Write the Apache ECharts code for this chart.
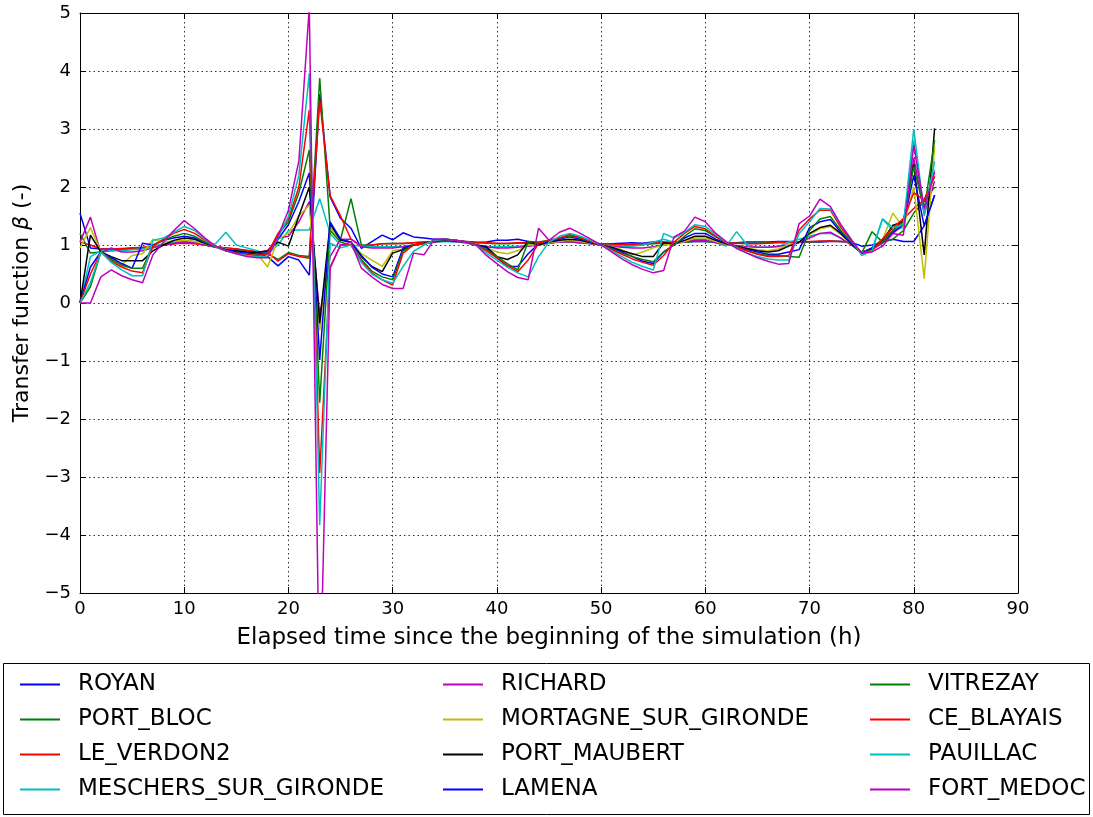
<!DOCTYPE html>
<html>
<head>
<meta charset="utf-8">
<script src="https://cdn.jsdelivr.net/npm/echarts@6/dist/echarts.min.js"></script>
<style>
  html, body { margin: 0; padding: 0; background: #fff; }
  #chart { width: 1093px; height: 817px; }
</style>
</head>
<body>
<div id="chart"></div>
<script>
// hours since start of the simulation
var hours = [0, 1, 2, 3, 4, 5, 6, 7, 8, 9, 10, 11, 12, 13, 14, 15, 16, 17, 18, 19,
  20, 21, 22, 23, 24, 25, 26, 27, 28, 29, 30, 31, 32, 33, 34, 35, 36, 37, 38, 39,
  40, 41, 42, 43, 44, 45, 46, 47, 48, 49, 50, 51, 52, 53, 54, 55, 56, 57, 58, 59,
  60, 61, 62, 63, 64, 65, 66, 67, 68, 69, 70, 71, 72, 73, 74, 75, 76, 77, 78, 79,
  80, 81, 82];

var stations = ['ROYAN', 'PORT_BLOC', 'LE_VERDON2', 'MESCHERS_SUR_GIRONDE',
  'RICHARD', 'MORTAGNE_SUR_GIRONDE', 'PORT_MAUBERT', 'LAMENA',
  'VITREZAY', 'CE_BLAYAIS', 'PAUILLAC', 'FORT_MEDOC'];

// matplotlib classic colour cycle
var colors = ['#0000ff', '#008000', '#ff0000', '#00bfbf', '#bf00bf', '#bfbf00', '#000000',
  '#0000ff', '#008000', '#ff0000', '#00bfbf', '#bf00bf'];

var royan = [1.55, 0.95, 0.93, 0.93, 0.93, 0.95, 0.95, 0.97, 1.0, 1.02,
  1.05, 1.04, 1.0, 0.97, 0.95, 0.93, 0.9, 0.85, 0.8, 0.64,
  0.8, 0.74, 0.48, 3.6, 1.83, 1.46, 1.29, 0.94, 1.06, 1.17,
  1.09, 1.21, 1.14, 1.12, 1.1, 1.1, 1.08, 1.06, 1.04, 1.05,
  1.08, 1.08, 1.1, 1.06, 1.04, 1.04, 1.05, 1.06, 1.05, 1.03,
  1.02, 1.02, 1.03, 1.04, 1.03, 1.05, 1.05, 1.04, 1.05, 1.06,
  1.06, 1.05, 1.04, 1.04, 1.05, 1.05, 1.05, 1.06, 1.06, 1.05,
  1.05, 1.05, 1.06, 1.06, 1.05, 0.98, 1.0, 1.05, 1.1, 1.06,
  1.06, 1.33, 1.86];
var portBloc = [1.2, 0.86, 0.88, 0.9, 0.92, 0.93, 0.95, 0.98, 1.0, 1.03,
  1.06, 1.04, 1.0, 0.97, 0.94, 0.92, 0.9, 0.87, 0.85, 0.75,
  0.87, 0.82, 0.8, 3.88, 1.3, 1.1, 1.8, 1.0, 1.0, 1.02,
  1.03, 1.02, 1.04, 1.05, 1.06, 1.07, 1.06, 1.05, 1.04, 1.03,
  1.02, 1.02, 1.03, 1.03, 1.03, 1.04, 1.05, 1.05, 1.04, 1.03,
  1.02, 1.01, 1.0, 1.0, 1.01, 1.02, 1.03, 1.04, 1.05, 1.06,
  1.06, 1.05, 1.04, 1.03, 1.03, 1.03, 1.04, 1.05, 1.05, 1.05,
  1.05, 1.06, 1.07, 1.06, 1.05, 0.86, 1.23, 1.05, 1.1, 1.25,
  1.55, 1.75, 2.0];
var leVerdon2 = [1.05, 1.0, 0.93, 0.93, 0.94, 0.95, 0.96, 0.98, 1.0, 1.02,
  1.03, 1.02, 1.0, 0.97, 0.95, 0.93, 0.91, 0.89, 0.87, 0.72,
  0.85, 0.8, 0.77, 3.5, 1.85, 1.5, 1.1, 0.98, 1.0, 1.02,
  1.02, 1.03, 1.04, 1.05, 1.06, 1.07, 1.07, 1.06, 1.05, 1.04,
  1.03, 1.03, 1.04, 1.04, 1.04, 1.04, 1.05, 1.05, 1.04, 1.03,
  1.02, 1.01, 1.01, 1.01, 1.02, 1.03, 1.04, 1.05, 1.06, 1.07,
  1.07, 1.06, 1.04, 1.03, 1.02, 1.02, 1.03, 1.04, 1.04, 1.05,
  1.06, 1.07, 1.07, 1.06, 1.05, 0.87, 0.95, 1.1, 1.25, 1.45,
  1.63, 1.78, 2.18];
var meschers = [0, 0.8, 0.9, 0.9, 0.9, 0.92, 0.93, 0.98, 1.02, 1.05,
  1.08, 1.06, 1.0, 1.02, 1.22, 1.0, 0.95, 0.9, 0.85, 1.0,
  1.25, 1.26, 1.26, 1.8, 1.2, 1.0, 1.0, 0.98, 0.97, 0.97,
  0.97, 0.98, 1.0, 1.02, 1.05, 1.06, 1.05, 1.04, 1.0, 0.98,
  0.97, 0.97, 0.98, 1.0, 1.02, 1.04, 1.05, 1.06, 1.04, 1.02,
  1.0, 0.99, 0.98, 0.98, 1.0, 1.05, 1.1, 1.05, 1.06, 1.1,
  1.1, 1.04, 0.98, 1.23, 1.0, 0.96, 0.96, 0.97, 1.05, 1.1,
  1.15, 1.2, 1.2, 1.12, 1.0, 0.87, 0.93, 1.45, 1.25, 1.3,
  2.8, 1.5, 2.3];
var richard = [1.05, 1.48, 0.86, 0.95, 0.88, 0.88, 0.9, 0.95, 1.0, 1.03,
  1.05, 1.04, 1.0, 0.96, 0.93, 0.9, 0.88, 0.87, 0.9, 1.12,
  1.15, 1.4, 1.75, -0.2, 0.8, 1.1, 1.1, 0.97, 0.95, 0.95,
  0.95, 0.97, 1.0, 1.02, 1.05, 1.07, 1.06, 1.04, 1.0, 0.97,
  0.95, 0.95, 0.96, 0.98, 1.0, 1.03, 1.05, 1.06, 1.04, 1.02,
  1.0, 0.98, 0.96, 0.95, 0.95, 0.97, 1.0, 1.02, 1.05, 1.08,
  1.08, 1.04, 1.01, 0.99, 0.97, 0.96, 0.96, 0.98, 1.0, 1.04,
  1.12, 1.2, 1.22, 1.12, 1.0, 0.88, 0.93, 1.03, 1.2, 1.35,
  2.5, 1.55, 2.1];
var mortagne = [0.95, 1.3, 0.88, 0.78, 0.66, 0.82, 0.85, 1.1, 1.05, 1.07,
  1.08, 1.06, 1.02, 0.97, 0.93, 0.9, 0.88, 0.85, 0.62, 1.1,
  1.2, 1.5, 1.69, -0.47, 1.3, 1.1, 1.05, 0.85, 0.74, 0.63,
  0.9, 0.93, 1.0, 1.03, 1.06, 1.08, 1.07, 1.05, 1.0, 0.95,
  0.88, 0.85, 0.9, 1.0, 1.0, 1.04, 1.06, 1.08, 1.06, 1.03,
  1.0, 0.97, 0.92, 0.83, 0.88, 0.95, 1.0, 1.02, 1.06, 1.12,
  1.12, 1.06, 1.01, 0.98, 0.95, 0.92, 0.9, 0.93, 1.0, 1.05,
  1.18, 1.28, 1.32, 1.18, 1.02, 0.87, 0.93, 1.09, 1.55, 1.3,
  2.0, 0.42, 2.7];
var portMaubert = [0, 1.17, 0.88, 0.8, 0.73, 0.73, 0.73, 0.9, 1.0, 1.08,
  1.12, 1.1, 1.03, 0.97, 0.92, 0.9, 0.88, 0.87, 0.9, 1.05,
  0.98, 1.5, 2.0, -0.35, 1.37, 1.08, 1.05, 0.8, 0.63, 0.54,
  0.86, 0.92, 1.0, 1.03, 1.06, 1.08, 1.07, 1.05, 1.0, 0.97,
  0.8, 0.75, 0.83, 1.06, 1.0, 1.05, 1.08, 1.1, 1.08, 1.04,
  1.0, 0.96, 0.9, 0.85, 0.8, 0.8, 1.04, 1.02, 1.08, 1.15,
  1.15, 1.08, 1.02, 0.98, 0.94, 0.9, 0.88, 0.9, 0.98, 1.05,
  1.2, 1.3, 1.34, 1.2, 1.02, 0.86, 0.93, 1.08, 1.34, 1.4,
  2.4, 0.83, 3.01];
var lamena = [0, 0.62, 0.88, 0.78, 0.68, 0.6, 1.03, 1.0, 1.08, 1.12,
  1.15, 1.12, 1.04, 0.97, 0.92, 0.88, 0.86, 0.84, 0.86, 1.1,
  1.35, 1.75, 2.24, -0.98, 1.4, 1.1, 1.05, 0.82, 0.62, 0.5,
  0.45, 0.95, 1.0, 1.03, 1.07, 1.1, 1.08, 1.05, 1.0, 0.95,
  0.78, 0.63, 0.63, 0.85, 1.02, 1.07, 1.1, 1.14, 1.1, 1.05,
  1.0, 0.95, 0.88, 0.8, 0.72, 0.68, 0.88, 1.0, 1.12, 1.2,
  1.2, 1.1, 1.03, 0.97, 0.92, 0.88, 0.84, 0.84, 0.88, 0.92,
  1.3, 1.4, 1.44, 1.22, 1.03, 0.86, 0.95, 1.05, 1.22, 1.35,
  2.2, 1.33, 1.86];
var vitrezay = [0, 0.28, 0.88, 0.75, 0.65, 0.6, 0.6, 1.0, 1.08, 1.15,
  1.2, 1.15, 1.05, 0.97, 0.9, 0.86, 0.84, 0.82, 0.85, 1.18,
  1.4, 1.9, 2.64, -1.72, 1.25, 1.05, 1.0, 0.75, 0.55, 0.45,
  0.4, 0.9, 1.0, 1.02, 1.07, 1.1, 1.08, 1.05, 1.0, 0.92,
  0.8, 0.68, 0.57, 1.06, 1.05, 1.08, 1.12, 1.16, 1.12, 1.06,
  1.0, 0.93, 0.86, 0.8, 0.75, 0.71, 0.88, 1.0, 1.15, 1.28,
  1.25, 1.14, 1.04, 0.97, 0.9, 0.85, 0.82, 0.82, 0.8, 0.79,
  1.25, 1.45, 1.49, 1.25, 1.05, 0.86, 0.92, 1.05, 1.25, 1.4,
  2.35, 1.6, 2.81];
var ceBlayais = [0, 0.5, 0.88, 0.72, 0.62, 0.55, 0.52, 0.98, 1.1, 1.2,
  1.27, 1.2, 1.08, 0.97, 0.9, 0.86, 0.83, 0.82, 0.85, 1.2,
  1.45, 2.0, 3.33, -2.93, 0.62, 1.0, 1.0, 0.72, 0.52, 0.4,
  0.31, 0.86, 1.0, 1.02, 1.08, 1.1, 1.08, 1.05, 1.0, 0.9,
  0.78, 0.65, 0.54, 0.74, 1.03, 1.08, 1.12, 1.18, 1.13, 1.06,
  1.0, 0.92, 0.84, 0.76, 0.7, 0.65, 0.82, 1.05, 1.2, 1.32,
  1.28, 1.15, 1.04, 0.96, 0.9, 0.84, 0.8, 0.8, 0.82, 1.26,
  1.45, 1.6, 1.6, 1.3, 1.08, 0.85, 0.9, 1.1, 1.3, 1.45,
  1.9, 1.78, 2.18];
var pauillac = [0, 0.35, 0.88, 0.7, 0.57, 0.47, 0.47, 1.08, 1.12, 1.22,
  1.32, 1.25, 1.1, 0.97, 0.9, 0.85, 0.82, 0.8, 0.8, 1.12,
  1.5, 2.2, 3.96, -3.83, 1.03, 0.95, 1.0, 0.7, 0.5, 0.4,
  0.34, 0.63, 0.89, 1.0, 1.08, 1.1, 1.08, 1.05, 1.0, 0.86,
  0.74, 0.62, 0.52, 0.45, 0.8, 1.05, 1.15, 1.2, 1.15, 1.08,
  1.0, 0.9, 0.8, 0.7, 0.63, 0.57, 1.2, 1.12, 1.22, 1.35,
  1.32, 1.18, 1.05, 0.95, 0.86, 0.8, 0.76, 0.74, 0.74, 1.2,
  1.4, 1.63, 1.62, 1.35, 1.1, 0.82, 0.9, 1.45, 1.3, 1.35,
  3.0, 1.55, 2.44];
var fortMedoc = [0, 0, 0.45, 0.57, 0.47, 0.4, 0.35, 0.83, 1.05, 1.25,
  1.42, 1.28, 1.12, 0.98, 0.9, 0.85, 0.8, 0.78, 0.78, 1.15,
  1.6, 2.45, 5.1, -7.0, 0.6, 1.0, 1.05, 0.6, 0.45, 0.32,
  0.25, 0.25, 0.86, 0.83, 1.1, 1.1, 1.08, 1.05, 1.0, 0.82,
  0.68, 0.54, 0.44, 0.4, 1.29, 1.08, 1.22, 1.29, 1.2, 1.1,
  1.0, 0.88, 0.76, 0.66, 0.58, 0.52, 0.56, 1.14, 1.24, 1.48,
  1.4, 1.2, 1.06, 0.94, 0.86, 0.78, 0.72, 0.67, 0.68, 1.37,
  1.5, 1.79, 1.66, 1.35, 1.09, 0.86, 0.88, 0.98, 1.2, 1.17,
  2.72, 1.63, 2.26];

var values = [royan, portBloc, leVerdon2, meschers, richard, mortagne,
  portMaubert, lamena, vitrezay, ceBlayais, pauillac, fortMedoc];

var chart = echarts.init(document.getElementById('chart'));

var font = 'DejaVu Sans';
var minus = function (v) { return v < 0 ? '\u2212' + (-v) : '' + v; };

var series = stations.map(function (name, i) {
  return {
    name: name,
    type: 'line',
    showSymbol: false,
    symbol: 'none',
    animation: false,
    clip: true,
    color: colors[i],
    lineStyle: { width: 1.5, color: colors[i] },
    data: hours.map(function (h, j) { return [h, values[i][j]]; })
  };
});

function legendCol(names, left) {
  return {
    data: names,
    orient: 'vertical',
    left: left,
    top: 672,
    padding: 0,
    itemGap: 10,
    itemWidth: 40,
    itemHeight: 2,
    icon: 'rect',
    selectedMode: false,
    textStyle: { fontFamily: font, fontSize: 23, color: '#000', lineHeight: 25, padding: [0, 0, 0, 13] }
  };
}

var axisLineStyle = { show: true, onZero: false, lineStyle: { color: '#000', width: 1 } };
var tickStyle = { show: true, inside: true, length: 6, lineStyle: { color: '#000' } };
var gridLineStyle = { show: true, lineStyle: { color: '#000', width: 1, type: [1.5, 3], opacity: 0.8 } };

var option = {
  backgroundColor: '#fff',
  animation: false,
  grid: { left: 80, right: 75, top: 13, bottom: 224 },
  xAxis: [{
    type: 'value', min: 0, max: 90, interval: 10, position: 'bottom',
    name: 'Elapsed time since the beginning of the simulation (h)',
    nameLocation: 'middle', nameGap: 34,
    nameTextStyle: { fontFamily: font, fontSize: 23, color: '#000' },
    axisLine: axisLineStyle,
    axisTick: tickStyle,
    axisLabel: { fontFamily: font, fontSize: 18, color: '#000', margin: 7 },
    splitLine: gridLineStyle
  }, {
    type: 'value', min: 0, max: 90, interval: 10, position: 'top',
    axisLine: axisLineStyle,
    axisTick: tickStyle,
    axisLabel: { show: false },
    splitLine: { show: false }
  }],
  yAxis: [{
    type: 'value', min: -5, max: 5, interval: 1, position: 'left',
    name: 'Transfer function {b|β} (-)',
    nameLocation: 'middle', nameGap: 46,
    nameTextStyle: {
      fontFamily: font, fontSize: 22, color: '#000',
      rich: { b: { fontFamily: font, fontSize: 22, fontStyle: 'italic', color: '#000' } }
    },
    axisLine: axisLineStyle,
    axisTick: tickStyle,
    axisLabel: { fontFamily: font, fontSize: 18, color: '#000', margin: 9, formatter: minus },
    splitLine: gridLineStyle
  }, {
    type: 'value', min: -5, max: 5, interval: 1, position: 'right',
    axisLine: axisLineStyle,
    axisTick: tickStyle,
    axisLabel: { show: false },
    splitLine: { show: false }
  }],
  legend: [
    legendCol(stations.slice(0, 4), 20),
    legendCol(stations.slice(4, 8), 443),
    legendCol(stations.slice(8, 12), 870)
  ],
  graphic: [{
    type: 'rect',
    shape: { x: 3.5, y: 663.5, width: 1086, height: 151 },
    style: { fill: 'none', stroke: '#000', lineWidth: 1 },
    silent: true
  }],
  series: series
};

option && chart.setOption(option);
</script>
</body>
</html>
